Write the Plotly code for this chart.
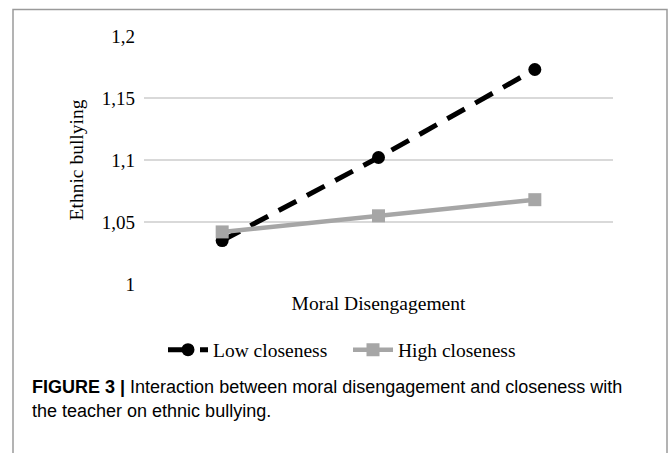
import plotly.graph_objects as go

categories = ["Low", "Mean", "High"]
low_closeness = [1.035, 1.102, 1.173]
high_closeness = [1.042, 1.055, 1.068]
tick_vals = [1.0, 1.05, 1.1, 1.15, 1.2]
tick_text = ["1", "1,05", "1,1", "1,15", "1,2"]

W, H = 668, 453
serif = "Liberation Serif, Times New Roman, serif"
sans = "Liberation Sans, Arial, sans-serif"

fig = go.Figure()
fig.add_trace(go.Scatter(
    x=categories, y=low_closeness, name="Low closeness", mode="lines+markers",
    line=dict(color="black", width=5, dash="20px,12px"),
    marker=dict(symbol="circle", size=13, color="black"),
))
fig.add_trace(go.Scatter(
    x=categories, y=high_closeness, name="High closeness", mode="lines+markers",
    line=dict(color="#a6a6a6", width=4.5),
    marker=dict(symbol="square", size=13, color="#a6a6a6"),
))

fig.update_layout(
    width=W, height=H,
    margin=dict(l=0, r=0, t=0, b=0, autoexpand=False),
    paper_bgcolor="white", plot_bgcolor="white",
    showlegend=True,
    legend=dict(orientation="h", x=348 / W, xanchor="center", y=1 - 350 / H, yanchor="middle",
                font=dict(family=serif, size=19.5, color="black"), itemwidth=40,
                entrywidth=130, tracegroupgap=0),
    xaxis=dict(domain=[144 / W, 613 / W], range=[-0.5, 2.5], type="category",
               showticklabels=False, showgrid=False,
               zeroline=False, showline=False, ticks="", automargin=False,
               title=dict(text="Moral Disengagement", font=dict(family=serif, size=19.5, color="black"),
                          standoff=12)),
    yaxis=dict(domain=[1 - 284 / H, 1 - 36 / H], range=[1.0, 1.2], automargin=False,
               tickvals=tick_vals, ticktext=tick_text, showgrid=True,
               gridcolor="#d9d9d9", gridwidth=1.5, zeroline=False, showline=False,
               tickfont=dict(family=serif, size=19, color="black"), ticks="",
               ticklabelstandoff=8,
               title=dict(text="Ethnic bullying", font=dict(family=serif, size=19.5, color="black"),
                          standoff=12)),
    shapes=[dict(type="rect", xref="paper", yref="paper",
                 x0=13 / W, x1=667 / W, y0=-0.05, y1=1 - 9.5 / H,
                 line=dict(color="#9a9a9a", width=1.5), fillcolor="rgba(0,0,0,0)")],
    annotations=[
        dict(xref="paper", yref="paper", x=30 / W, y=1 - 387 / H, xanchor="left", yanchor="middle",
             showarrow=False, align="left",
             text="<b>FIGURE 3</b> <b>|</b> Interaction between moral disengagement and closeness with",
             font=dict(family=sans, size=18, color="black")),
        dict(xref="paper", yref="paper", x=30 / W, y=1 - 411 / H, xanchor="left", yanchor="middle",
             showarrow=False, align="left",
             text="the teacher on ethnic bullying.",
             font=dict(family=sans, size=18, color="black")),
    ],
)

fig.write_html("out.html", config={"displayModeBar": False},
               post_script="document.body.style.margin='0';document.body.style.overflow='hidden';")
